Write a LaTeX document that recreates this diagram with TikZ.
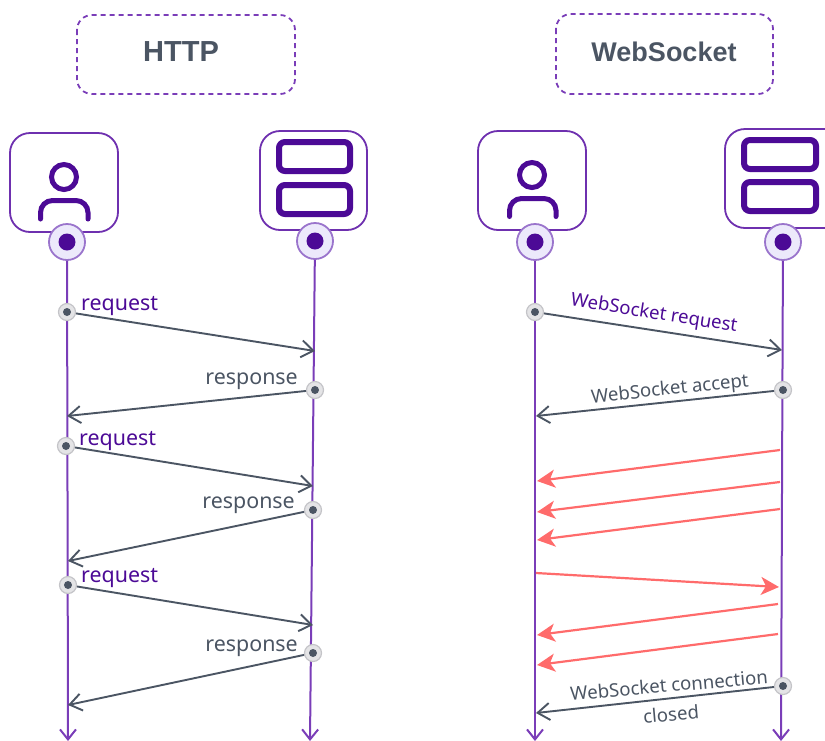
\documentclass[tikz,border=0pt]{standalone}
\usepackage{fontspec}
\setmainfont{Noto Sans}
\newfontfamily\titlefont{Liberation Sans}[BoldFont={Liberation Sans Bold}]
\usetikzlibrary{arrows.meta}
\definecolor{linePurple}{HTML}{7A3DB8}
\definecolor{iconPurple}{HTML}{4C0A96}
\definecolor{hubFill}{HTML}{ECE9FB}
\definecolor{hubRing}{HTML}{9A74CC}
\definecolor{slateGray}{HTML}{4B5563}
\definecolor{dotFill}{HTML}{E4E4E6}
\definecolor{dotRing}{HTML}{C4C4C8}
\definecolor{flowRed}{HTML}{FF6B6B}
\tikzset{
  headerbox/.style={draw=linePurple,line width=1.8pt,dash pattern=on 5pt off 4pt,rounded corners=15pt},
  headertext/.style={text=slateGray,font=\titlefont\fontsize{27}{30}\selectfont\bfseries},
  actorbox/.style={draw=linePurple!75!iconPurple,line width=1.8pt,fill=white,rounded corners=20pt},
  iconline/.style={draw=iconPurple,line width=5pt,line cap=round},
  iconrack/.style={draw=iconPurple,line width=6pt,rounded corners=6pt},
  hubnode/.style={circle,draw=hubRing,line width=1.8pt,fill=hubFill,minimum size=36pt,inner sep=0pt},
  hubcore/.style={circle,fill=iconPurple,minimum size=17pt,inner sep=0pt},
  lifeline/.style={draw=linePurple,line width=2pt,-{Straight Barb[length=10pt,width=16pt,line width=2pt]}},
  startdot/.style={circle,draw=dotRing,line width=1.2pt,fill=dotFill,minimum size=17pt,inner sep=0pt,
    path picture={\fill[slateGray] (path picture bounding box.center) circle (4pt);}},
  message/.style={draw=slateGray,line width=1.9pt,-{Straight Barb[length=12pt,width=17pt,line width=1.9pt]}},
  redflow/.style={draw=flowRed,line width=2.2pt,-{Stealth[length=18pt,width=18pt,inset=5pt]}},
  reqlabel/.style={text=iconPurple,font=\fontsize{21.4}{24}\selectfont,inner sep=0pt},
  resplabel/.style={text=slateGray,font=\fontsize{21.4}{24}\selectfont,inner sep=0pt},
  wslabel/.style={font=\fontsize{18.6}{20}\selectfont,inner sep=0pt},
}
\begin{document}
\begin{tikzpicture}[x=1pt,y=-1pt]
  \useasboundingbox (0,0) rectangle (825,740);

  % headers
  \draw[headerbox] (77,15) rectangle (295,94);
  \node[headertext,font=\titlefont\fontsize{29}{30}\selectfont\bfseries] (httpTitle) at (181,52) {HTTP};
  \draw[headerbox] (556,14) rectangle (773,94);
  \node[headertext] (wsTitle) at (664,52) {WebSocket};

  % actor boxes and icons
  \draw[actorbox] (10,133) rectangle (118,232);
  \draw[actorbox] (260,131) rectangle (367,230);
  \draw[actorbox] (478,131) rectangle (586,230);
  \draw[actorbox] (725,129) rectangle (845,228);

  \draw[iconline] (64,177) circle (12.5pt);
  \draw[iconline,rounded corners=12pt] (40.5,219) -- (40.5,200.5) -- (88,200.5) -- (88,219);
  \draw[iconline] (532,175) circle (12.5pt);
  \draw[iconline,rounded corners=12pt] (509.5,216.5) -- (509.5,198.5) -- (556,198.5) -- (556,216.5);

  \draw[iconrack] (279,142) rectangle (350,171);
  \draw[iconrack] (279,185) rectangle (350,214);
  \draw[iconrack] (744,140) rectangle (816,169);
  \draw[iconrack] (744,182) rectangle (816,211);

  % lifelines
  \coordinate (httpClientEnd) at (68,741);
  \coordinate (httpServerEnd) at (310,741);
  \coordinate (wsClientEnd) at (535,741);
  \coordinate (wsServerEnd) at (781,741);
  \node[hubnode] (httpClient) at (67,242) {};
  \node[hubnode] (httpServer) at (315,241) {};
  \node[hubnode] (wsClient) at (535,242) {};
  \node[hubnode] (wsServer) at (783,242) {};
  \draw[lifeline] (httpClient) -- (httpClientEnd);
  \draw[lifeline] (httpServer) -- (httpServerEnd);
  \draw[lifeline] (wsClient) -- (wsClientEnd);
  \draw[lifeline] (wsServer) -- (wsServerEnd);

  \foreach \hub in {httpClient,httpServer,wsClient,wsServer}
    \node[hubcore] at (\hub) {};

  % http messages
  \node[startdot] (reqA) at (67,312) {};
  \node[startdot] (respA) at (315,390) {};
  \node[startdot] (reqB) at (66,446) {};
  \node[startdot] (respB) at (313,510) {};
  \node[startdot] (reqC) at (68,585) {};
  \node[startdot] (respC) at (313,653) {};
  \coordinate (reqAEnd) at (315,351);
  \coordinate (respAEnd) at (67,416);
  \coordinate (reqBEnd) at (313,486);
  \coordinate (respBEnd) at (68,561);
  \coordinate (reqCEnd) at (313,625);
  \coordinate (respCEnd) at (68,705);
  \foreach \msg in {reqA,respA,reqB,respB,reqC,respC}
    \draw[message] (\msg) -- (\msg End);

  \node[reqlabel,anchor=west] (reqAText) at (81,306) {request};
  \node[resplabel,anchor=east] (respAText) at (298,381) {response};
  \node[reqlabel,anchor=west] (reqBText) at (79,441) {request};
  \node[resplabel,anchor=east] (respBText) at (295,505) {response};
  \node[reqlabel,anchor=west] (reqCText) at (81,578) {request};
  \node[resplabel,anchor=east] (respCText) at (298,648) {response};

  % websocket messages
  \node[startdot] (wsReq) at (535,312) {};
  \node[startdot] (wsAcc) at (783,390) {};
  \node[startdot] (wsClose) at (783,686) {};
  \coordinate (wsReqEnd) at (782,350);
  \coordinate (wsAccEnd) at (536,416);
  \coordinate (wsCloseEnd) at (536,713);
  \foreach \msg in {wsReq,wsAcc,wsClose}
    \draw[message] (\msg) -- (\msg End);

  \node[wslabel,text=iconPurple,rotate=-9] (wsReqText) at (654,314) {WebSocket request};
  \node[wslabel,text=slateGray,rotate=6] (wsAccText) at (670,390) {WebSocket accept};
  \node[wslabel,text=slateGray,rotate=5] (wsCloseText) at (669,685) {WebSocket connection};
  \node[wslabel,text=slateGray,rotate=5] (wsClosedText) at (671,714) {closed};

  % data frames
  \foreach \n/\xa/\ya/\xb/\yb in {a/780/450/537/481,b/780/482/537/512,c/780/509/537/540,
      d/536/573/779/587,e/778/604/537/635,f/778/634/537/665} {
    \coordinate (frame\n From) at (\xa,\ya);
    \coordinate (frame\n To) at (\xb,\yb);
    \draw[redflow] (frame\n From) -- (frame\n To);
  }
\end{tikzpicture}
\end{document}
